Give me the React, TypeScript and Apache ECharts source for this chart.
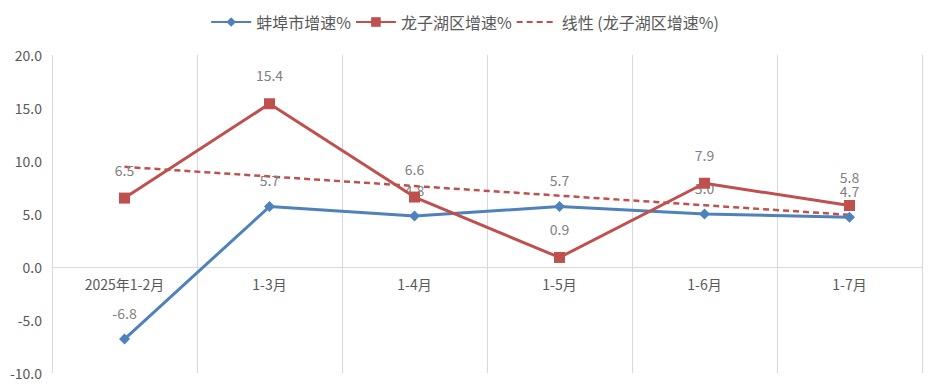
import React, { useEffect, useRef } from "react";
import * as echarts from "echarts";

const categories = ["2025年1-2月", "1-3月", "1-4月", "1-5月", "1-6月", "1-7月"];
const bengbu = [-6.8, 5.7, 4.8, 5.7, 5.0, 4.7];
const longzihu = [6.5, 15.4, 6.6, 0.9, 7.9, 5.8];
const yTicks = { min: -10, max: 20, interval: 5 };
const seriesNames = ["蚌埠市增速%", "龙子湖区增速%", "线性 (龙子湖区增速%)"];

function linearTrend(ys: number[]): number[] {
  const n = ys.length;
  const xs = ys.map((_, i) => i + 1);
  const mx = xs.reduce((a, b) => a + b, 0) / n;
  const my = ys.reduce((a, b) => a + b, 0) / n;
  let sxy = 0, sxx = 0;
  for (let i = 0; i < n; i++) {
    sxy += (xs[i] - mx) * (ys[i] - my);
    sxx += (xs[i] - mx) * (xs[i] - mx);
  }
  const b = sxy / sxx;
  const a = my - b * mx;
  return xs.map((x) => a + b * x);
}

export default function App() {
  const ref = useRef<HTMLDivElement>(null);
  useEffect(() => {
    if (!ref.current) return;
    const chart = echarts.init(ref.current, null, { renderer: "svg" });
    const font = "'Microsoft YaHei', 'Noto Sans CJK SC', sans-serif";
    const H = 388, top = 55, bottom = 15;
    const plotH = H - top - bottom;
    const zeroOffset = -plotH * (0 - yTicks.min) / (yTicks.max - yTicks.min);
    const labelStyle = {
      show: true,
      position: "top" as const,
      distance: 14,
      color: "#7f7f7f",
      fontSize: 14,
      fontFamily: font,
      formatter: (p: any) => Number(p.value).toFixed(1),
    };
    chart.setOption({
      animation: false,
      backgroundColor: "#ffffff",
      textStyle: { fontFamily: font },
      legend: {
        top: 9,
        left: "center",
        itemGap: 4,
        itemWidth: 40,
        itemHeight: 12,
        textStyle: { color: "#595959", fontSize: 16, fontFamily: font },
        data: [
          { name: seriesNames[0] },
          { name: seriesNames[1] },
          { name: seriesNames[2], itemStyle: { opacity: 0 } },
        ],
      },
      grid: { left: 52, right: 7, top, bottom, containLabel: false, outerBoundsMode: "none" },
      xAxis: [
        {
          type: "category",
          data: categories,
          boundaryGap: true,
          position: "bottom",
          offset: zeroOffset,
          axisLine: { show: true, onZero: false, lineStyle: { color: "#d9d9d9", width: 1 } },
          axisTick: { show: false },
          axisLabel: { color: "#595959", fontSize: 14, margin: 10, fontFamily: font },
          splitLine: { show: true, lineStyle: { color: "#d9d9d9", width: 1 } },
        },
      ],
      yAxis: {
        type: "value",
        min: yTicks.min,
        max: yTicks.max,
        interval: yTicks.interval,
        axisLine: { show: false },
        axisTick: { show: false },
        splitLine: { show: false },
        axisLabel: {
          color: "#595959",
          fontSize: 14,
          margin: 10,
          fontFamily: font,
          formatter: (v: number) => v.toFixed(1),
        },
      },
      series: [
        {
          name: seriesNames[0],
          type: "line",
          data: bengbu,
          symbol: "diamond",
          symbolSize: 11,
          lineStyle: { color: "#4f81bd", width: 3 },
          itemStyle: { color: "#4f81bd" },
          label: labelStyle,
          z: 2,
        },
        {
          name: seriesNames[1],
          type: "line",
          data: longzihu,
          symbol: "rect",
          symbolSize: 11,
          lineStyle: { color: "#c0504d", width: 3 },
          itemStyle: { color: "#c0504d" },
          label: { ...labelStyle, distance: 16 },
          z: 3,
        },
        {
          name: seriesNames[2],
          type: "line",
          data: linearTrend(longzihu),
          symbol: "none",
          showSymbol: false,
          lineStyle: { color: "#c0504d", width: 2.5, type: [6, 4] },
          itemStyle: { color: "#c0504d" },
          z: 1,
        },
      ],
    });
    return () => chart.dispose();
  }, []);
  return (
    <div
      ref={ref}
      style={{ position: "absolute", left: 0, top: 0, width: 929, height: 388 }}
    />
  );
}
